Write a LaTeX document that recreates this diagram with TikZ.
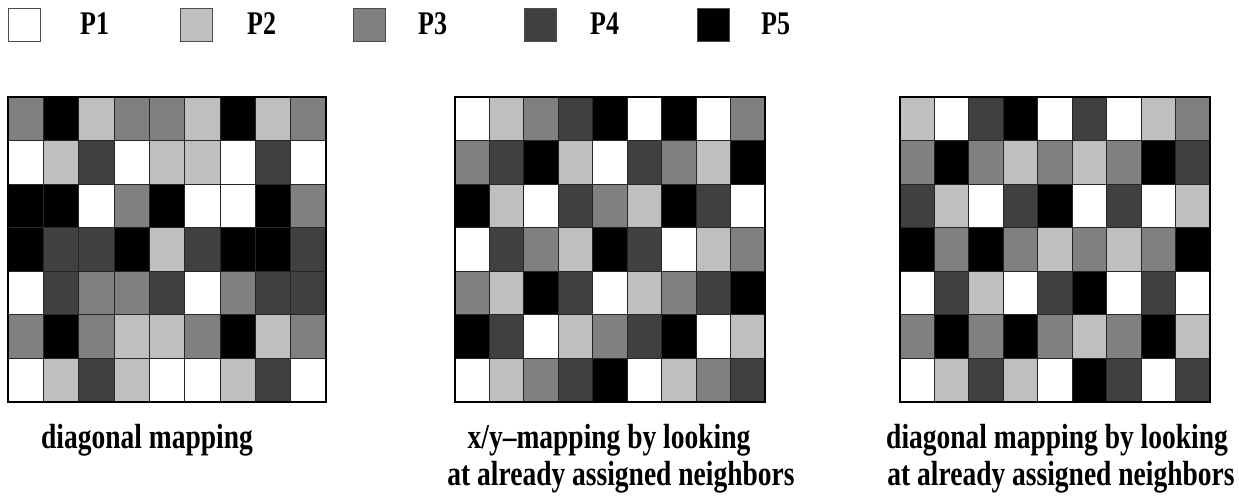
\documentclass[tikz,border=0pt]{standalone}
\usepackage{fontspec}
\setmainfont{Liberation Serif}
\usepackage{graphicx}
\definecolor{pc1}{gray}{1}
\definecolor{pc2}{gray}{0.75}
\definecolor{pc3}{gray}{0.5}
\definecolor{pc4}{gray}{0.25}
\definecolor{pc5}{gray}{0}
\newcommand\tallbold[1]{\scalebox{1}[1.27]{#1}}
\begin{document}
\begin{tikzpicture}[x=1pt,y=-1pt,
  legbox/.style={draw=black!70, line width=0.8pt, minimum width=32pt, minimum height=33pt, inner sep=0pt},
  legtext/.style={anchor=west, inner sep=0pt, font=\bfseries\fontsize{26}{30}\selectfont},
  cell/.style={draw=black!85, line width=1pt},
  frame/.style={draw=black, line width=2.5pt},
  lab/.style={inner sep=0pt, font=\bfseries\fontsize{27.5}{30}\selectfont},
]
\useasboundingbox (0,0) rectangle (1239,497);

% legend
\foreach \i/\bx/\tx in {1/8/80, 2/180/247, 3/353/418, 4/524/590, 5/697/761} {
  \node[legbox, fill=pc\i] (key\i) at (\bx+16, 24.5) {};
  \node[legtext] (keylabel\i) at (\tx, 24) {\tallbold{P\i}};
}

% one 9x7 grid of processor cells; #1 = left edge, #2 = width, #3 = rows of processor numbers
\newcommand\procgrid[3]{%
  \foreach \row [count=\r from 0] in {#3} {
    \foreach \c [count=\k from 0] in \row {
      \path[cell, fill=pc\c] (#1+\k*#2/9, 97+\r*43.571) rectangle ++(#2/9, 43.571);
    }
  }
  \draw[frame] (#1,97) rectangle ++(#2,305);
}

\procgrid{8}{318}{{3,5,2,3,3,2,5,2,3},{1,2,4,1,2,2,1,4,1},{5,5,1,3,5,1,1,5,3},{5,4,4,5,2,4,5,5,4},{1,4,3,3,4,1,3,4,4},{3,5,3,2,2,3,5,2,3},{1,2,4,2,1,1,2,4,1}}
\procgrid{455}{310}{{1,2,3,4,5,1,5,1,3},{3,4,5,2,1,4,3,2,5},{5,2,1,4,3,2,5,4,1},{1,4,3,2,5,4,1,2,3},{3,2,5,4,1,2,3,4,5},{5,4,1,2,3,4,5,1,2},{1,2,3,4,5,1,2,3,4}}
\procgrid{900}{310}{{2,1,4,5,1,4,1,2,3},{3,5,3,2,3,2,3,5,4},{4,2,1,4,5,1,4,1,2},{5,3,5,3,2,3,2,3,5},{1,4,2,1,4,5,1,4,1},{3,5,3,5,3,2,3,5,2},{1,2,4,2,1,5,4,1,4}}

% captions
\node[lab] (cap1) at (147, 440) {\tallbold{diagonal mapping}};
\node[lab] (cap2a) at (609, 440) {\tallbold{x/y--mapping by looking}};
\node[lab] (cap2b) at (621, 477) {\tallbold{at already assigned neighbors}};
\node[lab] (cap3a) at (1057, 440) {\tallbold{diagonal mapping by looking}};
\node[lab] (cap3b) at (1061, 477) {\tallbold{at already assigned neighbors}};
\end{tikzpicture}
\end{document}
